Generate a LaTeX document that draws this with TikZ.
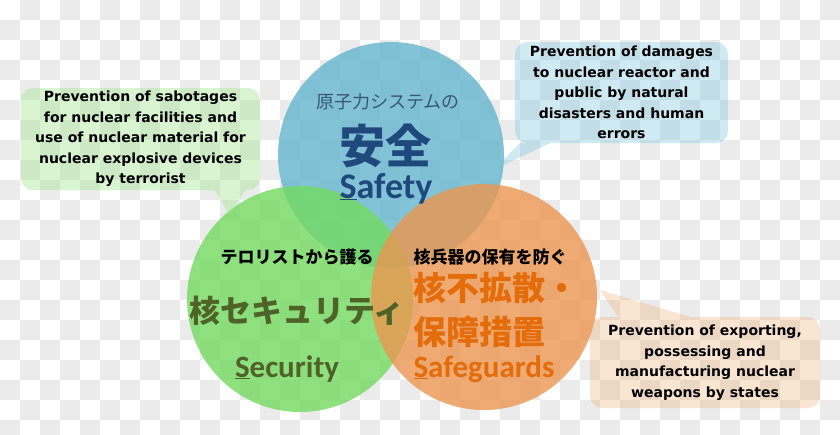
\documentclass[tikz,border=0pt]{standalone}
\usepackage{fontspec}
\setmainfont{Carlito}
\newfontfamily\jpfont{Noto Sans CJK JP}
\newfontfamily\notefont{DejaVu Sans}
\usetikzlibrary{positioning}
\definecolor{check-grey}{RGB}{235,235,235}
\definecolor{safety-fill}{RGB}{100,180,205}
\definecolor{security-fill}{RGB}{115,218,95}
\definecolor{guard-fill}{RGB}{235,150,80}
\definecolor{safety-blue}{RGB}{31,73,125}
\definecolor{safety-grey}{RGB}{55,88,120}
\definecolor{security-olive}{RGB}{79,98,40}
\definecolor{guard-orange}{RGB}{228,108,10}
\definecolor{green-note}{RGB}{170,230,150}
\definecolor{blue-note}{RGB}{120,195,220}
\definecolor{orange-note}{RGB}{240,170,110}

\begin{document}
\begin{tikzpicture}[
    x=1pt, y=-1pt,
    ring/.style={circle, minimum size=226pt, inner sep=0pt, fill opacity=0.8},
    note/.style={rectangle, rounded corners=12pt, inner sep=0pt, align=center, text opacity=1, font=\notefont\bfseries\fontsize{14}{20.5}\selectfont},
    jp-sub/.style={font=\jpfont\bfseries\fontsize{17}{17}\selectfont, inner sep=0pt},
    jp-big/.style={font=\jpfont\bfseries\fontsize{33}{44}\selectfont, inner sep=0pt},
    en-label/.style={font=\bfseries\fontsize{31}{31}\selectfont, inner sep=0pt, anchor=base}
]
\useasboundingbox (0,0) rectangle (840,434);
\clip (0,0) rectangle (840,434);

% Checkered backdrop
\foreach \i in {0,2,...,40}
  \foreach \j in {0,2,...,20} {
    \fill[check-grey] (\i*20+20,\j*20) rectangle ++(20,20);
    \fill[check-grey] (\i*20,\j*20+20) rectangle ++(20,20);
  }

% Circles
\node[ring, fill=safety-fill] (safety) at (391,155) {};
\node[ring, fill=security-fill] (security) at (300,299) {};
\node[ring, fill=guard-fill] (safeguards) at (484,297) {};

% Safety
\node[jp-sub, font=\jpfont\fontsize{18}{18}\selectfont, text=safety-grey] (safety-sub) at (388,102) {原子力システムの};
\node[jp-big, font=\jpfont\bfseries\fontsize{46}{46}\selectfont, text=safety-blue] (safety-jp) at (385,146) {安全};
\node[en-label, font=\bfseries\fontsize{36}{36}\selectfont, text=safety-blue] (safety-en) at (386,198) {\underline{S}afety};

% Security
\node[jp-sub] (security-sub) at (297,257) {テロリストから護る};
\node[jp-big, font=\jpfont\bfseries\fontsize{31}{31}\selectfont, text=security-olive] (security-jp) at (297,311) {核セキュリティ};
\node[en-label, text=security-olive] (security-en) at (287,377) {\underline{S}ecurity};

% Safeguards
\node[jp-sub] (guard-sub) at (490,257) {核兵器の保有を防ぐ};
\node[jp-big, anchor=west, text=guard-orange] (guard-jp1) at (413,288) {核不拡散・};
\node[jp-big, anchor=west, text=guard-orange] (guard-jp2) at (413,332) {保障措置};
\node[en-label, text=guard-orange] (guard-en) at (484,377) {\underline{S}afeguards};

% Notes
\node[note, fill=green-note, fill opacity=0.45, minimum width=239pt, minimum height=102pt] (security-note) at (140.5,139) {Prevention of sabotages\\for nuclear facilities and\\use of nuclear material for\\nuclear explosive devices\\by terrorist};
\coordinate (security-tip) at (229,214);
\fill[green-note, fill opacity=0.45] ([xshift=194pt]security-note.south west) -- (security-tip) -- ([xshift=225pt]security-note.south west) -- cycle;

\node[note, fill=blue-note, fill opacity=0.35, minimum width=213pt, minimum height=101pt] (safety-note) at (621.5,92.5) {Prevention of damages\\to nuclear reactor and\\public by natural\\disasters and human\\errors};
\coordinate (safety-tip) at (493,170);
\fill[blue-note, fill opacity=0.35] ([xshift=5pt]safety-note.south west) -- (safety-tip) -- ([xshift=35pt]safety-note.south west) -- cycle;

\node[note, fill=orange-note, fill opacity=0.3, minimum width=230pt, minimum height=91pt] (guard-note) at (705,362.5) {Prevention of exporting,\\possessing and\\manufacturing nuclear\\weapons by states};
\coordinate (guard-tip) at (600,290);
\fill[orange-note, fill opacity=0.3] ([xshift=28pt]guard-note.north west) -- (guard-tip) -- ([xshift=100pt]guard-note.north west) -- cycle;

\end{tikzpicture}
\end{document}
